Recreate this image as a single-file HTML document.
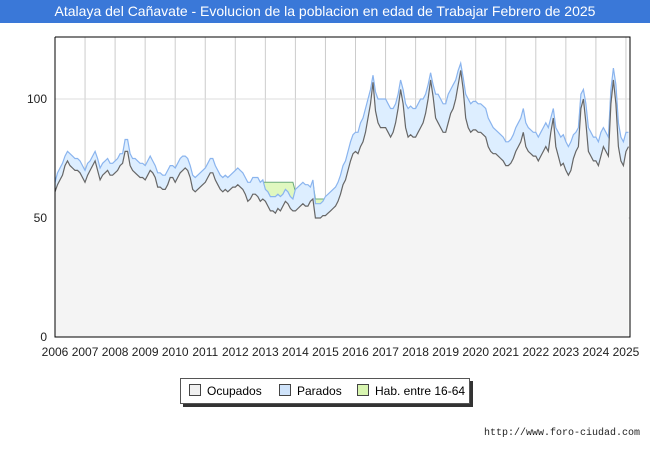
<!DOCTYPE html>
<html><head><meta charset="utf-8"><style>
body{margin:0;background:#fff;font-family:"Liberation Sans",sans-serif}
#wrap{position:relative;width:650px;height:450px;overflow:hidden;background:#fff}
#title{position:absolute;left:0;top:0;width:650px;height:23px;background:#3a78d8;color:#fff;font-size:14px;line-height:23px;text-align:center}
#legend{position:absolute;left:180px;top:378px;width:288px;height:24px;border:1px solid #555;background:#fff;box-shadow:3px 3px 0 #333;font-size:12px}
.li{position:absolute;top:5px}
.sw{display:inline-block;width:10px;height:10px;border:1px solid #444;vertical-align:-1px;margin-right:6px}
#url{position:absolute;right:10px;top:428px;font-size:10px;font-family:"Liberation Mono",monospace;color:#222}
</style></head><body>
<div id="wrap">
<div id="title">Atalaya del Cañavate - Evolucion de la poblacion en edad de Trabajar Febrero de 2025</div>
<svg id="svg" width="650" height="450" style="position:absolute;left:0;top:0"></svg>
<div id="legend">
<span class="li" style="left:8px"><span class="sw" style="background:#f0f0f0"></span>Ocupados</span>
<span class="li" style="left:98px"><span class="sw" style="background:#cfe3fa"></span>Parados</span>
<span class="li" style="left:176px"><span class="sw" style="background:#d8f5b0"></span>Hab. entre 16-64</span>
</div>
<div id="url">http://www.foro-ciudad.com</div>
</div>
<script>
const yearTicks=[2006,2007,2008,2009,2010,2011,2012,2013,2014,2015,2016,2017,2018,2019,2020,2021,2022,2023,2024,2025];
const valueTicks=[0,50,100];
const ocupados=[
61,64,66,68,72,74,72,71,70,70,69,67,
65,68,70,72,74,70,66,68,69,70,68,68,
69,70,72,73,78,78,72,70,69,68,67,67,
66,68,70,69,67,63,63,62,62,64,67,67,
65,67,69,70,71,70,67,62,61,62,63,64,
65,67,69,69,66,64,62,61,62,61,62,63,
63,64,63,62,60,57,58,60,60,59,57,58,
57,55,53,53,52,54,53,55,57,56,54,53,
53,54,55,56,55,55,57,58,50,50,50,51,
51,52,53,54,55,57,60,64,66,70,74,77,
78,77,80,82,86,92,98,107,95,90,88,88,
88,86,84,86,90,96,104,98,88,84,85,84,
84,86,88,90,94,100,108,101,92,90,88,86,
86,90,94,96,100,106,112,104,92,88,86,87,
87,86,86,85,84,80,78,77,77,76,75,74,
72,72,73,75,78,80,82,86,80,78,77,76,
76,74,76,78,80,78,86,92,80,76,72,73,
70,68,70,75,78,80,96,100,90,78,76,74,
74,72,76,80,78,76,98,108,98,80,74,72,
78,80];
const parados=[
4,5,5,5,4,4,5,5,5,5,5,5,
5,5,4,4,4,5,5,5,5,5,5,5,
5,5,5,4,5,5,5,5,6,6,6,6,
6,6,6,5,5,6,6,6,6,6,5,5,
6,6,6,6,5,5,5,6,6,6,6,6,
6,6,6,6,6,6,6,6,6,6,6,6,
7,7,7,7,7,8,7,7,7,8,8,8,
5,6,6,6,7,6,6,5,5,5,5,5,
9,9,9,9,9,9,6,8,6,6,6,6,
8,8,8,8,8,8,8,8,8,8,8,8,
8,9,10,10,10,8,6,3,8,10,12,12,
12,12,12,10,8,6,4,6,10,12,12,12,
12,12,12,10,8,6,3,5,10,12,12,12,
12,12,10,10,8,6,3,5,10,12,12,12,
12,12,12,12,12,12,12,11,10,10,10,10,
10,10,10,10,10,10,10,10,10,10,10,10,
10,10,10,10,10,10,6,4,8,10,12,12,
12,12,12,10,8,8,6,4,8,10,10,10,
10,10,10,8,8,8,6,5,8,10,10,10,
8,6];
const hab=[
64,68,70,72,75,77,76,75,74,74,73,71,
69,72,73,75,77,74,70,72,73,74,72,72,
73,74,76,76,82,82,76,74,74,73,72,72,
71,73,75,73,71,68,68,67,67,69,71,71,
70,72,74,75,75,74,71,67,66,67,68,69,
70,72,74,74,71,69,67,66,67,66,67,68,
69,70,69,68,66,64,64,66,66,66,64,65,
65,65,65,65,65,65,65,65,65,65,65,65,
61,62,63,64,63,63,62,65,58,58,58,58,
58,59,60,61,62,64,67,71,73,77,81,84,
85,85,89,91,95,99,103,109,102,99,99,99,
99,97,95,95,97,101,107,103,97,95,96,95,
95,97,99,99,101,105,110,105,101,101,99,97,
97,101,103,105,107,111,114,108,101,99,97,98,
98,97,97,96,95,91,89,87,86,85,84,83,
81,81,82,84,87,89,91,95,89,87,86,85,
85,83,85,87,89,87,91,95,87,85,83,84,
81,79,81,84,85,87,101,103,97,87,85,83,
83,81,85,87,85,83,103,112,105,89,83,81,
85,85];
const L=55,R=630,T=37,B=337;
const x=i=>L+(i/12)*30.05;
const y=v=>B-v*2.38;
const svg=document.getElementById('svg');
const NS='http://www.w3.org/2000/svg';
function mk(tag,attrs){const e=document.createElementNS(NS,tag);for(const k in attrs)e.setAttribute(k,attrs[k]);svg.appendChild(e);return e;}
const bg=mk('rect',{x:L,y:T,width:R-L,height:B-T,fill:'#fff'});


const n=ocupados.length;
const total=ocupados.map((v,i)=>v+parados[i]);
function line(arr){return arr.map((v,i)=>x(i).toFixed(1)+','+y(v).toFixed(1)).join(' ');}
function area(top,bot){let s=line(top);let b=bot?bot.map((v,i)=>[x(i),y(v)]).reverse().map(p=>p[0].toFixed(1)+','+p[1].toFixed(1)).join(' '):x(n-1)+','+B+' '+x(0)+','+B;return s+' '+b;}
yearTicks.forEach((yr,k)=>{const gx=L+(yr-2006)*30.05;
 const g=mk('line',{x1:gx,x2:gx,y1:T,y2:B,stroke:'#cccccc','stroke-width':1});
 
 
 const t=mk('text',{x:gx,y:356,'font-size':12,'text-anchor':'middle',fill:'#222','font-family':'Liberation Sans'});t.textContent=yr;
 
 });
valueTicks.forEach(v=>{const gy=y(v);
 if(v>0){const g=mk('line',{x1:L,x2:R,y1:gy,y2:gy,stroke:'#dddddd','stroke-width':1});
 
 }
 const t=mk('text',{x:47,y:gy+4,'font-size':12,'text-anchor':'end',fill:'#222','font-family':'Liberation Sans'});t.textContent=v;
 
 });
const hA=mk('polygon',{points:area(hab),fill:'#e0f8c0'});


const hL=mk('polyline',{points:line(hab),fill:'none',stroke:'#6aaa7a','stroke-width':1});


const pA=mk('polygon',{points:area(total,ocupados),fill:'#ddeeff'});


const oA=mk('polygon',{points:area(ocupados),fill:'#f4f4f4'});


const pL=mk('polyline',{points:line(total),fill:'none',stroke:'#8ab4ee','stroke-width':1.2});


const oL=mk('polyline',{points:line(ocupados),fill:'none',stroke:'#666','stroke-width':1.2});


const ax=mk('polyline',{points:`${L},${T} ${L},${B} ${R},${B} ${R},${T} ${L},${T}`,fill:'none',stroke:'#000','stroke-width':1});


</script>
</body></html>
